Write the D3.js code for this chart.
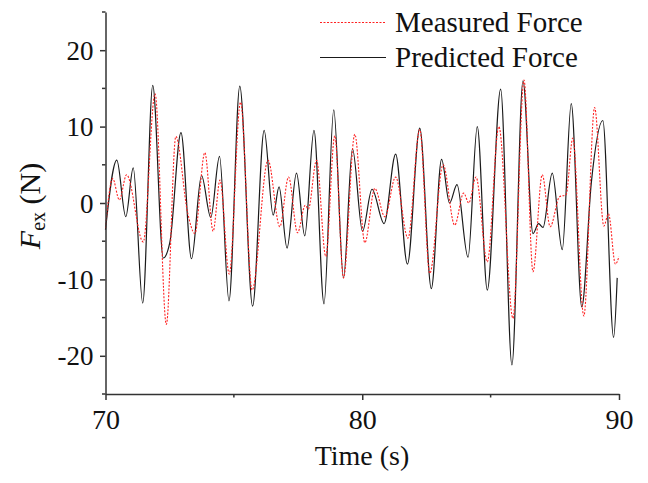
<!DOCTYPE html>
<html>
<head>
<meta charset="utf-8">
<script src="https://cdn.jsdelivr.net/npm/d3@7"></script>
<style>
  body { margin: 0; background: #fff; }
  svg text { font-family: "Liberation Serif", "Times New Roman", serif; fill: #111; }
</style>
</head>
<body>
<svg id="chart" width="648" height="483"></svg>
<script>
// Measured force (red dotted)
const measuredTime = [70, 70.28, 70.54, 70.82, 71.47, 71.93, 72.37, 72.74, 73.2, 73.48, 73.87, 74.19, 74.46, 74.82, 75.26, 75.71, 76.33, 76.79, 77.13, 77.48, 77.78, 77.9, 78.22, 78.58, 78.93, 79.27, 79.71, 80.1, 80.49, 80.88, 81.3, 81.78, 82.24, 82.63, 83.15, 83.6, 83.95, 84.15, 84.43, 84.87, 85.32, 85.87, 86.3, 86.65, 87.01, 87.32, 87.68, 87.94, 88.2, 88.63, 89.05, 89.41, 89.59, 89.86, 90];
const measuredForce = [-3.3, 3.2, 0.4, 3.7, -5.1, 14.3, -15.9, 8.7, -1.3, -4.0, 6.6, -3.7, 3.0, -9.3, 13.2, -11.4, 5.6, -3.1, 3.4, -3.9, -0.3, -0.8, 5.6, -7.0, 8.8, -9.8, 9.0, -5.2, 1.9, -1.8, 3.4, -4.6, 9.6, -9.2, 5.0, -2.9, 1.3, 0.0, 3.4, -7.7, 10.0, -15.1, 16.1, -9.0, 3.7, -3.1, 0.8, 1.1, 8.5, -14.8, 12.5, -3.0, -1.4, -8.0, -7.0];

// Predicted force (black solid)
const predictedTime = [70, 70.44, 70.79, 71.08, 71.45, 71.84, 72.25, 72.51, 72.94, 73.35, 73.74, 74.1, 74.44, 74.81, 75.23, 75.73, 76.18, 76.53, 76.76, 77.07, 77.44, 77.76, 78.12, 78.51, 78.89, 79.27, 79.62, 80.01, 80.38, 80.85, 81.3, 81.76, 82.24, 82.69, 83.09, 83.4, 83.69, 84.12, 84.48, 84.87, 85.39, 85.83, 86.26, 86.65, 86.87, 87.04, 87.4, 87.79, 88.14, 88.55, 88.92, 89.37, 89.79, 89.93];
const predictedForce = [-3.5, 5.6, -1.8, 4.6, -13.1, 15.4, -7.2, -5.1, 9.2, -7.3, 3.6, -1.9, 6.1, -12.8, 15.3, -13.5, 9.5, -1.6, 2.1, -5.9, 3.9, -4.3, 9.5, -13.2, 12.2, -9.8, 7.1, -3.7, 1.8, -2.7, 6.4, -8.0, 9.8, -11.2, 5.7, 0.0, 2.4, -7.1, 10.0, -11.4, 14.9, -21.2, 16.0, -4.0, -2.7, -3.2, 3.9, -6.1, 13.0, -13.6, 2.6, 10.8, -17.6, -9.8];

const xMajor = [70, 80, 90];
const xMinor = [75, 85];
const yMajor = [-20, -10, 0, 10, 20];
const yMinor = [-25, -15, -5, 5, 15, 25];
const seriesNames = ["Measured Force", "Predicted Force"];

const svg = d3.select("#chart");

const xScale = d3.scaleLinear().domain([70, 90]).range([105.5, 619]);
const yScale = d3.scaleLinear().domain([-25, 25]).range([394, 12]);

const measured = measuredTime.map((t, i) => ({ t, f: measuredForce[i] }));
const predicted = predictedTime.map((t, i) => ({ t, f: predictedForce[i] }));

const line = d3.line()
  .x(d => xScale(d.t))
  .y(d => yScale(d.f))
  .curve(d3.curveMonotoneX);

svg.append("path")
  .attr("d", line(predicted))
  .attr("fill", "none")
  .attr("stroke", "#1a1a1a")
  .attr("stroke-width", 1.2);

svg.append("path")
  .attr("d", line(measured))
  .attr("fill", "none")
  .attr("stroke", "#ff2020")
  .attr("stroke-width", 1.1)
  .attr("stroke-dasharray", "2,1.5");

// Axes (plain hyphen for negatives, like the original)
const axisColor = "#333";
const fmt = d => String(d);

const xAxis = svg.append("g")
  .attr("transform", `translate(0,${yScale(-25)})`)
  .call(d3.axisBottom(xScale).tickValues(xMajor).tickSize(6).tickSizeOuter(0).tickFormat(fmt));
xAxis.append("g").selectAll("line")
  .data(xMinor)
  .join("line")
    .attr("x1", d => xScale(d)).attr("x2", d => xScale(d))
    .attr("y1", 0).attr("y2", 3.5);

const yAxis = svg.append("g")
  .attr("transform", `translate(${xScale(70)},0)`)
  .call(d3.axisLeft(yScale).tickValues(yMajor).tickSize(5.5).tickSizeOuter(0).tickFormat(fmt));
yAxis.append("g").selectAll("line")
  .data(yMinor)
  .join("line")
    .attr("y1", d => yScale(d)).attr("y2", d => yScale(d))
    .attr("x1", 0).attr("x2", -3.5);

svg.selectAll(".domain, .tick line, g > g > line")
  .attr("stroke", axisColor)
  .attr("stroke-width", 1.5);

xAxis.selectAll(".tick text")
  .attr("font-size", 28)
  .attr("dy", null)
  .attr("y", 35);

yAxis.selectAll(".tick text")
  .attr("font-size", 27)
  .attr("x", -12)
  .attr("dy", "0.34em");

svg.selectAll(".tick text").attr("font-family", null);

// Axis titles
svg.append("text")
  .attr("x", 362)
  .attr("y", 465)
  .attr("text-anchor", "middle")
  .attr("font-size", 28)
  .text("Time (s)");

const yTitle = svg.append("text")
  .attr("transform", "translate(40,206) rotate(-90)")
  .attr("text-anchor", "middle")
  .attr("font-size", 30);
yTitle.append("tspan").attr("font-style", "italic").text("F");
yTitle.append("tspan").attr("font-size", 20).attr("dy", 5).text("ex");
yTitle.append("tspan").attr("dy", -5).text(" (N)");

// Legend
const legend = svg.append("g");
const legendRows = [
  { name: seriesNames[0], color: "#ff2020", dash: "2,1.5", y: 22.5 },
  { name: seriesNames[1], color: "#1a1a1a", dash: null, y: 57.5 }
];
legendRows.forEach(r => {
  legend.append("line")
    .attr("x1", 320).attr("x2", 386)
    .attr("y1", r.y).attr("y2", r.y)
    .attr("stroke", r.color)
    .attr("stroke-width", 1.2)
    .attr("stroke-dasharray", r.dash);
  legend.append("text")
    .attr("x", 395)
    .attr("y", r.y + 9.5)
    .attr("font-size", 29)
    .text(r.name);
});
</script>
</body>
</html>
